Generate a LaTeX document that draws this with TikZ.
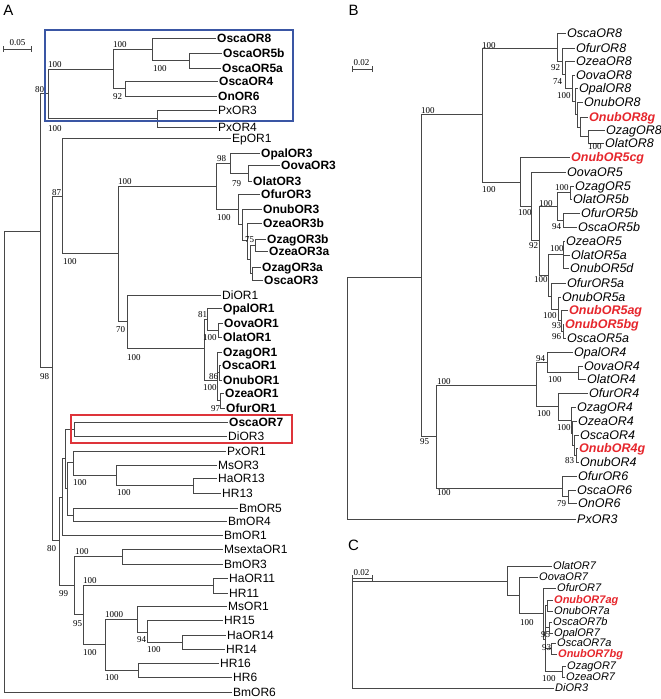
\documentclass[tikz,border=0pt]{standalone}
\usepackage{fontspec}
\newfontfamily\mysans{Liberation Sans}
\newfontfamily\myserif{Liberation Serif}
\newcommand\myfA{\mysans\fontsize{12}{12}\selectfont}
\newcommand\myfB{\mysans\fontsize{12.5}{12.5}\selectfont}
\newcommand\myfC{\mysans\fontsize{11}{11}\selectfont}
\newcommand\myfN{\myserif\fontsize{9}{9}\selectfont}
\newcommand\myfP{\mysans\fontsize{15}{15}\selectfont}
\definecolor{boxblue}{RGB}{58,86,164}
\definecolor{boxred}{RGB}{222,52,58}
\definecolor{ored}{RGB}{230,38,44}
\tikzset{
 br/.style={draw=black!72, line width=0.6pt},
 lf/.style={br, shorten >=1.2pt},
 la/.style={anchor=west, inner sep=0pt, text height=8.6pt, text depth=0pt, font=\myfA},
 lab/.style={la, font=\myfA\bfseries},
 lb/.style={anchor=west, inner sep=0pt, text height=9pt, text depth=0pt, font=\myfB\itshape},
 lbr/.style={lb, font=\myfB\bfseries\itshape, text=ored},
 lc/.style={anchor=west, inner sep=0pt, text height=7.9pt, text depth=0pt, font=\myfC\itshape},
 lcr/.style={lc, font=\myfC\bfseries\itshape, text=ored},
 bs/.style={anchor=west, inner sep=0pt, text height=6pt, text depth=0pt, font=\myfN},
 panel/.style={inner sep=0pt, font=\myfP},
 sbar/.style={inner sep=0pt, font=\myfN},
 bluebox/.style={draw=boxblue, line width=2.4pt, anchor=north west, inner sep=0pt},
 redbox/.style={draw=boxred, line width=2.4pt, anchor=north west, inner sep=0pt},
}
\begin{document}
\begin{tikzpicture}[x=1pt,y=-1pt]
\useasboundingbox (0,0) rectangle (661,699);
% ---------------- panel letters and scale bars
\node[panel] (pA) at (8.5,10) {A};
\node[panel] (pB) at (353.5,10) {B};
\node[panel] (pC) at (353.5,545) {C};
\coordinate (sa1) at (3,49.3); \coordinate (sa2) at (31,49.3);
\draw[br] (sa1) -- (sa2);
\draw[br] ([yshift=3pt]sa1) -- ([yshift=-3pt]sa1);
\draw[br] ([yshift=3pt]sa2) -- ([yshift=-3pt]sa2);
\node[sbar] (ta) at (17.5,43) {0.05};
\coordinate (sb1) at (352.3,69.3); \coordinate (sb2) at (372.3,69.3);
\draw[br] (sb1) -- (sb2);
\draw[br] ([yshift=3pt]sb1) -- ([yshift=-3pt]sb1);
\draw[br] ([yshift=3pt]sb2) -- ([yshift=-3pt]sb2);
\node[sbar] (tb) at (361.5,63) {0.02};
\coordinate (sc1) at (352.3,578); \coordinate (sc2) at (372.3,578);
\draw[br] (sc1) -- (sc2);
\draw[br] ([yshift=3pt]sc1) -- ([yshift=-3pt]sc1);
\draw[br] ([yshift=3pt]sc2) -- ([yshift=-3pt]sc2);
\node[sbar] (tc) at (361.5,572.5) {0.02};

% ================= PANEL A =================
\node[lab] (A1) at (217,38) {OscaOR8};
\node[lab] (A2) at (223,53) {OscaOR5b};
\node[lab] (A3) at (222,68) {OscaOR5a};
\node[lab] (A4) at (219,81) {OscaOR4};
\node[lab] (A5) at (218,96) {OnOR6};
\node[la] (A6) at (218,110) {PxOR3};
\node[la] (A7) at (218,127) {PxOR4};
\node[la] (A8) at (232,138) {EpOR1};
\node[lab] (A9) at (261,153) {OpalOR3};
\node[lab] (A10) at (281,165) {OovaOR3};
\node[lab] (A11) at (253,181) {OlatOR3};
\node[lab] (A12) at (261,194) {OfurOR3};
\node[lab] (A13) at (263,209) {OnubOR3};
\node[lab] (A14) at (263,223) {OzeaOR3b};
\node[lab] (A15) at (267,239) {OzagOR3b};
\node[lab] (A16) at (269,251) {OzeaOR3a};
\node[lab] (A17) at (262,267) {OzagOR3a};
\node[lab] (A18) at (264,280) {OscaOR3};
\node[la] (A19) at (222,295) {DiOR1};
\node[lab] (A20) at (223,308) {OpalOR1};
\node[lab] (A21) at (224,323) {OovaOR1};
\node[lab] (A22) at (223,337) {OlatOR1};
\node[lab] (A23) at (223,352) {OzagOR1};
\node[lab] (A24) at (222,365) {OscaOR1};
\node[lab] (A25) at (223,380) {OnubOR1};
\node[lab] (A26) at (225,393) {OzeaOR1};
\node[lab] (A27) at (226,408) {OfurOR1};
\node[lab] (A28) at (229,422) {OscaOR7};
\node[la] (A29) at (228,436) {DiOR3};
\node[la] (A30) at (227,451) {PxOR1};
\node[la] (A31) at (218,465) {MsOR3};
\node[la] (A32) at (218,478) {HaOR13};
\node[la] (A33) at (222,493) {HR13};
\node[la] (A34) at (239,508) {BmOR5};
\node[la] (A35) at (228,521) {BmOR4};
\node[la] (A36) at (224,535) {BmOR1};
\node[la] (A37) at (224,549) {MsextaOR1};
\node[la] (A38) at (224,564) {BmOR3};
\node[la] (A39) at (229,578) {HaOR11};
\node[la] (A40) at (229,593) {HR11};
\node[la] (A41) at (228,606) {MsOR1};
\node[la] (A42) at (224,620) {HR15};
\node[la] (A43) at (227,635) {HaOR14};
\node[la] (A44) at (226,649) {HR14};
\node[la] (A45) at (220,663) {HR16};
\node[la] (A46) at (233,677) {HR6};
\node[la] (A47) at (233,692) {BmOR6};

\coordinate (rA) at (4,461);
\coordinate (a1) at (40,231);
\coordinate (a2) at (48,93);
\coordinate (a3) at (113,69);
\coordinate (a4) at (152,49);
\coordinate (a6) at (189,60.5);
\coordinate (a5) at (125,88.5);
\coordinate (aPx) at (157,118);
\coordinate (a98) at (52.5,367);
\coordinate (a87) at (62,196);
\coordinate (b1) at (118,253);
\coordinate (b3) at (216,186);
\coordinate (b5) at (230,163);
\coordinate (b7) at (248,173);
\coordinate (b6) at (238,209);
\coordinate (b8) at (242,224);
\coordinate (b9) at (247,240);
\coordinate (b10) at (250,259);
\coordinate (b11) at (255,245);
\coordinate (b12) at (252,273.5);
\coordinate (b4) at (127,321);
\coordinate (c1) at (204,348);
\coordinate (c2) at (207,319);
\coordinate (c4) at (218,330);
\coordinate (c3) at (217,380);
\coordinate (c5) at (219,372.5);
\coordinate (c6) at (220,400.5);
\coordinate (e80) at (59.3,540);
\coordinate (d1) at (62,497);
\coordinate (d3) at (65.5,458);
\coordinate (d4) at (74.5,429);
\coordinate (d5) at (67,488);
\coordinate (d6) at (73,462.5);
\coordinate (d8) at (116,475);
\coordinate (d9) at (193,485.5);
\coordinate (d7) at (73,515);
\coordinate (d2) at (74.5,585);
\coordinate (d10) at (122,556.5);
\coordinate (d11) at (83,614);
\coordinate (d12) at (213,585.5);
\coordinate (d13) at (105,644);
\coordinate (d14) at (137,619);
\coordinate (d16) at (147,632);
\coordinate (d17) at (182,642);
\coordinate (d15) at (138,670);

\draw[br] (rA) |- (a1);  \draw[lf] (rA) |- (A47.west);
\draw[br] (a1) |- (a2);  \draw[br] (a1) |- (a98);
\draw[br] (a2) |- (a3);  \draw[br] (a2) |- (aPx);
\draw[br] (a3) |- (a4);  \draw[br] (a3) |- (a5);
\draw[lf] (a4) |- (A1.west); \draw[br] (a4) |- (a6);
\draw[lf] (a6) |- (A2.west); \draw[lf] (a6) |- (A3.west);
\draw[lf] (a5) |- (A4.west); \draw[lf] (a5) |- (A5.west);
\draw[lf] (aPx) |- (A6.west); \draw[lf] (aPx) |- (A7.west);
\draw[br] (a98) |- (a87); \draw[br] (a98) |- (e80);
\draw[lf] (a87) |- (A8.west); \draw[br] (a87) |- (b1);
\draw[br] (b1) |- (b3); \draw[br] (b1) |- (b4);
\draw[br] (b3) |- (b5); \draw[br] (b3) |- (b6);
\draw[lf] (b5) |- (A9.west); \draw[br] (b5) |- (b7);
\draw[lf] (b7) |- (A10.west); \draw[lf] (b7) |- (A11.west);
\draw[lf] (b6) |- (A12.west); \draw[br] (b6) |- (b8);
\draw[lf] (b8) |- (A13.west); \draw[br] (b8) |- (b9);
\draw[lf] (b9) |- (A14.west); \draw[br] (b9) |- (b10);
\draw[br] (b10) |- (b11); \draw[br] (b10) |- (b12);
\draw[lf] (b11) |- (A15.west); \draw[lf] (b11) |- (A16.west);
\draw[lf] (b12) |- (A17.west); \draw[lf] (b12) |- (A18.west);
\draw[lf] (b4) |- (A19.west); \draw[br] (b4) |- (c1);
\draw[br] (c1) |- (c2); \draw[br] (c1) |- (c3);
\draw[lf] (c2) |- (A20.west); \draw[br] (c2) |- (c4);
\draw[lf] (c4) |- (A21.west); \draw[lf] (c4) |- (A22.west);
\draw[lf] (c3) |- (A23.west); \draw[br] (c3) |- (c5); \draw[br] (c3) |- (c6);
\draw[lf] (c5) |- (A24.west); \draw[lf] (c5) |- (A25.west);
\draw[lf] (c6) |- (A26.west); \draw[lf] (c6) |- (A27.west);
\draw[br] (e80) |- (d1); \draw[br] (e80) |- (d2);
\draw[br] (d1) |- (d3); \draw[lf] (d1) |- (A36.west);
\draw[br] (d3) |- (d4); \draw[br] (d3) |- (d5);
\draw[lf] (d4) |- (A28.west); \draw[lf] (d4) |- (A29.west);
\draw[br] (d5) |- (d6); \draw[br] (d5) |- (d7);
\draw[lf] (d6) |- (A30.west); \draw[br] (d6) |- (d8);
\draw[lf] (d8) |- (A31.west); \draw[br] (d8) |- (d9);
\draw[lf] (d9) |- (A32.west); \draw[lf] (d9) |- (A33.west);
\draw[lf] (d7) |- (A34.west); \draw[lf] (d7) |- (A35.west);
\draw[br] (d2) |- (d10); \draw[br] (d2) |- (d11);
\draw[lf] (d10) |- (A37.west); \draw[lf] (d10) |- (A38.west);
\draw[br] (d11) |- (d12); \draw[br] (d11) |- (d13);
\draw[lf] (d12) |- (A39.west); \draw[lf] (d12) |- (A40.west);
\draw[br] (d13) |- (d14); \draw[br] (d13) |- (d15);
\draw[lf] (d14) |- (A41.west); \draw[br] (d14) |- (d16);
\draw[lf] (d16) |- (A42.west); \draw[br] (d16) |- (d17);
\draw[lf] (d17) |- (A43.west); \draw[lf] (d17) |- (A44.west);
\draw[lf] (d15) |- (A45.west); \draw[lf] (d15) |- (A46.west);

% bootstrap A
\node[bs] (nA1) at (113,44) {100};
\node[bs] (nA2) at (153,68) {100};
\node[bs] (nA3) at (48,64) {100};
\node[bs] (nA4) at (35,89) {80};
\node[bs] (nA5) at (113,96) {92};
\node[bs] (nA6) at (48,128) {100};
\node[bs] (nA7) at (217,158) {98};
\node[bs] (nA8) at (232,183) {79};
\node[bs] (nA9) at (118,181) {100};
\node[bs] (nA10) at (52,192) {87};
\node[bs] (nA11) at (217,217) {100};
\node[bs] (nA12) at (245,239) {75};
\node[bs] (nA13) at (63,261) {100};
\node[bs] (nA14) at (198,314) {81};
\node[bs] (nA15) at (116,329) {70};
\node[bs] (nA16) at (203,337) {100};
\node[bs] (nA17) at (127,357) {100};
\node[bs] (nA18) at (40,376) {98};
\node[bs] (nA19) at (209,376) {86};
\node[bs] (nA20) at (203,387) {100};
\node[bs] (nA21) at (211,408) {97};
\node[bs] (nA22) at (73,482) {100};
\node[bs] (nA23) at (117,492) {100};
\node[bs] (nA24) at (47,548) {80};
\node[bs] (nA25) at (75,551) {100};
\node[bs] (nA26) at (83,580) {100};
\node[bs] (nA27) at (59,593) {99};
\node[bs] (nA28) at (105,614) {1000};
\node[bs] (nA29) at (73,623) {95};
\node[bs] (nA30) at (137,639) {94};
\node[bs] (nA31) at (147,649) {100};
\node[bs] (nA32) at (83,652) {100};
\node[bs] (nA33) at (105,677) {100};

\node[bluebox, minimum width=248pt, minimum height=91pt] (boxB) at (44,29) {};
\node[redbox, minimum width=221pt, minimum height=28pt] (boxR) at (70,414) {};

% ================= PANEL B =================
\node[lb] (B1) at (567,33) {OscaOR8};
\node[lb] (B2) at (576,48) {OfurOR8};
\node[lb] (B3) at (576,61) {OzeaOR8};
\node[lb] (B4) at (576,75) {OovaOR8};
\node[lb] (B5) at (579,88) {OpalOR8};
\node[lb] (B6) at (584,102) {OnubOR8};
\node[lbr] (B7) at (589,117) {OnubOR8g};
\node[lb] (B8) at (606,130) {OzagOR8};
\node[lb] (B9) at (605,143) {OlatOR8};
\node[lbr] (B10) at (571,157) {OnubOR5cg};
\node[lb] (B11) at (567,172) {OovaOR5};
\node[lb] (B12) at (575,186) {OzagOR5};
\node[lb] (B13) at (573,199) {OlatOR5b};
\node[lb] (B14) at (581,213) {OfurOR5b};
\node[lb] (B15) at (578,227) {OscaOR5b};
\node[lb] (B16) at (566,241) {OzeaOR5};
\node[lb] (B17) at (571,255) {OlatOR5a};
\node[lb] (B18) at (570,268) {OnubOR5d};
\node[lb] (B19) at (567,283) {OfurOR5a};
\node[lb] (B20) at (562,297) {OnubOR5a};
\node[lbr] (B21) at (569,310) {OnubOR5ag};
\node[lbr] (B22) at (565,324) {OnubOR5bg};
\node[lb] (B23) at (567,338) {OscaOR5a};
\node[lb] (B24) at (574,352) {OpalOR4};
\node[lb] (B25) at (584,366) {OovaOR4};
\node[lb] (B26) at (587,379) {OlatOR4};
\node[lb] (B27) at (589,393) {OfurOR4};
\node[lb] (B28) at (577,407) {OzagOR4};
\node[lb] (B29) at (578,421) {OzeaOR4};
\node[lb] (B30) at (580,435) {OscaOR4};
\node[lbr] (B31) at (579,448) {OnubOR4g};
\node[lb] (B32) at (580,462) {OnubOR4};
\node[lb] (B33) at (578,476) {OfurOR6};
\node[lb] (B34) at (577,490) {OscaOR6};
\node[lb] (B35) at (578,503) {OnOR6};
\node[lb] (B36) at (577,519) {PxOR3};

\coordinate (rB) at (347,398);
\coordinate (e1) at (421,277);
\coordinate (e2) at (482,114);
\coordinate (f1) at (557,48);
\coordinate (f2) at (562,61);
\coordinate (f3) at (565,74.5);
\coordinate (f4) at (572,88);
\coordinate (f5) at (575,101);
\coordinate (f6) at (577,114.4);
\coordinate (f7) at (580,126.8);
\coordinate (f8) at (588,136.5);
\coordinate (g1) at (520,182);
\coordinate (g2) at (531,206);
\coordinate (g3) at (539,240.5);
\coordinate (g4) at (557.7,206);
\coordinate (g6) at (570,192.5);
\coordinate (g7) at (563,220);
\coordinate (g5) at (548,275);
\coordinate (g8) at (563,254.5);
\coordinate (g9) at (551,296);
\coordinate (g10) at (558,309);
\coordinate (g11) at (561,320.5);
\coordinate (g12) at (563,331);
\coordinate (e3) at (436,436.5);
\coordinate (h1) at (536,385);
\coordinate (h3) at (547,362);
\coordinate (h5) at (578,372.5);
\coordinate (h4) at (558,406.5);
\coordinate (h6) at (571,420);
\coordinate (h7) at (572.5,433);
\coordinate (h8) at (574,445);
\coordinate (h9) at (576,455);
\coordinate (h2) at (562,488);
\coordinate (h10) at (568,496.5);

\draw[br] (rB) |- (e1); \draw[lf] (rB) |- (B36.west);
\draw[br] (e1) |- (e2); \draw[br] (e1) |- (e3);
\draw[br] (e2) |- (f1); \draw[br] (e2) |- (g1);
\draw[lf] (f1) |- (B1.west); \draw[br] (f1) |- (f2);
\draw[lf] (f2) |- (B2.west); \draw[br] (f2) |- (f3);
\draw[lf] (f3) |- (B3.west); \draw[br] (f3) |- (f4);
\draw[lf] (f4) |- (B4.west); \draw[br] (f4) |- (f5);
\draw[lf] (f5) |- (B5.west); \draw[br] (f5) |- (f6);
\draw[lf] (f6) |- (B6.west); \draw[br] (f6) |- (f7);
\draw[lf] (f7) |- (B7.west); \draw[br] (f7) |- (f8);
\draw[lf] (f8) |- (B8.west); \draw[lf] (f8) |- (B9.west);
\draw[lf] (g1) |- (B10.west); \draw[br] (g1) |- (g2);
\draw[lf] (g2) |- (B11.west); \draw[br] (g2) |- (g3);
\draw[br] (g3) |- (g4); \draw[br] (g3) |- (g5);
\draw[br] (g4) |- (g6); \draw[br] (g4) |- (g7);
\draw[lf] (g6) |- (B12.west); \draw[lf] (g6) |- (B13.west);
\draw[lf] (g7) |- (B14.west); \draw[lf] (g7) |- (B15.west);
\draw[br] (g5) |- (g8); \draw[br] (g5) |- (g9);
\draw[lf] (g8) |- (B16.west); \draw[lf] (g8) |- (B17.west); \draw[lf] (g8) |- (B18.west);
\draw[lf] (g9) |- (B19.west); \draw[br] (g9) |- (g10);
\draw[lf] (g10) |- (B20.west); \draw[br] (g10) |- (g11);
\draw[lf] (g11) |- (B21.west); \draw[br] (g11) |- (g12);
\draw[lf] (g12) |- (B22.west); \draw[lf] (g12) |- (B23.west);
\draw[br] (e3) |- (h1); \draw[br] (e3) |- (h2);
\draw[br] (h1) |- (h3); \draw[br] (h1) |- (h4);
\draw[lf] (h3) |- (B24.west); \draw[br] (h3) |- (h5);
\draw[lf] (h5) |- (B25.west); \draw[lf] (h5) |- (B26.west);
\draw[lf] (h4) |- (B27.west); \draw[br] (h4) |- (h6);
\draw[lf] (h6) |- (B28.west); \draw[br] (h6) |- (h7);
\draw[lf] (h7) |- (B29.west); \draw[br] (h7) |- (h8);
\draw[lf] (h8) |- (B30.west); \draw[br] (h8) |- (h9);
\draw[lf] (h9) |- (B31.west); \draw[lf] (h9) |- (B32.west);
\draw[lf] (h2) |- (B33.west); \draw[br] (h2) |- (h10);
\draw[lf] (h10) |- (B34.west); \draw[lf] (h10) |- (B35.west);

% bootstrap B
\node[bs] (nB1) at (421,110) {100};
\node[bs] (nB2) at (482,45) {100};
\node[bs] (nB3) at (551,67) {92};
\node[bs] (nB4) at (553,81) {74};
\node[bs] (nB5) at (557,95) {100};
\node[bs] (nB6) at (588,146) {100};
\node[bs] (nB7) at (482,189) {100};
\node[bs] (nB8) at (555,187) {100};
\node[bs] (nB9) at (539,203) {100};
\node[bs] (nB10) at (518,212) {100};
\node[bs] (nB11) at (552,226) {94};
\node[bs] (nB12) at (529,245) {92};
\node[bs] (nB13) at (550,248) {100};
\node[bs] (nB14) at (534,279) {100};
\node[bs] (nB15) at (543,315) {100};
\node[bs] (nB16) at (552,325) {93};
\node[bs] (nB17) at (552,336) {96};
\node[bs] (nB18) at (536,358) {94};
\node[bs] (nB19) at (548,379) {100};
\node[bs] (nB20) at (437,381) {100};
\node[bs] (nB21) at (537,413) {100};
\node[bs] (nB22) at (557,427) {100};
\node[bs] (nB23) at (420,441) {95};
\node[bs] (nB24) at (565,460) {83};
\node[bs] (nB25) at (437,492) {100};
\node[bs] (nB26) at (557,503) {79};

% ================= PANEL C =================
\node[lc] (C1) at (553,566) {OlatOR7};
\node[lc] (C2) at (539,577) {OovaOR7};
\node[lc] (C3) at (557,588) {OfurOR7};
\node[lcr] (C4) at (554,600) {OnubOR7ag};
\node[lc] (C5) at (554,611) {OnubOR7a};
\node[lc] (C6) at (553,622) {OscaOR7b};
\node[lc] (C7) at (554,633) {OpalOR7};
\node[lc] (C8) at (557,643) {OscaOR7a};
\node[lcr] (C9) at (558,654) {OnubOR7bg};
\node[lc] (C10) at (567,666) {OzagOR7};
\node[lc] (C11) at (566,677) {OzeaOR7};
\node[lc] (C12) at (555,688) {DiOR3};

\coordinate (rC) at (352,634);
\coordinate (ca) at (507,581);
\coordinate (cb) at (519,595);
\coordinate (cc) at (543,613);
\coordinate (cd) at (545,639);
\coordinate (ce) at (547,605.5);
\coordinate (cf) at (549,627.5);
\coordinate (cg) at (551,648.5);
\coordinate (ch) at (562,671.5);

\draw[br] (rC) |- (ca); \draw[lf] (rC) |- (C12.west);
\draw[lf] (ca) |- (C1.west); \draw[br] (ca) |- (cb);
\draw[lf] (cb) |- (C2.west); \draw[br] (cb) |- (cc);
\draw[lf] (cc) |- (C3.west); \draw[br] (cc) |- (cd);
\draw[br] (cd) |- (ce); \draw[br] (cd) |- (cf); \draw[br] (cd) |- (cg); \draw[br] (cd) |- (ch);
\draw[lf] (ce) |- (C4.west); \draw[lf] (ce) |- (C5.west);
\draw[lf] (cf) |- (C6.west); \draw[lf] (cf) |- (C7.west);
\draw[lf] (cg) |- (C8.west); \draw[lf] (cg) |- (C9.west);
\draw[lf] (ch) |- (C10.west); \draw[lf] (ch) |- (C11.west);

\node[bs] (nC1) at (520,622) {100};
\node[bs] (nC2) at (541,634) {95};
\node[bs] (nC3) at (542,647) {93};
\node[bs] (nC4) at (542,678) {100};
\end{tikzpicture}
\end{document}
